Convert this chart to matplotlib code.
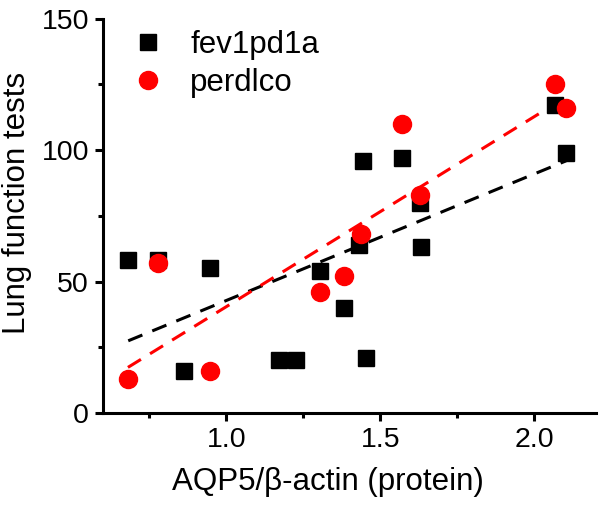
import numpy as np
import matplotlib
matplotlib.use("Agg")
import matplotlib.pyplot as plt
from matplotlib.ticker import MultipleLocator

plt.rcParams['font.family'] = ['Liberation Sans', 'DejaVu Sans']

# fev1pd1a (black squares)
fev_x = [0.682, 0.777, 0.948, 0.864, 1.170, 1.226, 1.305, 1.381, 1.454, 1.432,
         1.632, 2.066, 2.103, 1.570, 1.443, 1.630]
fev_y = [58, 58, 55, 16, 20, 20, 54, 40, 21, 64, 63, 117, 99, 97, 96, 80]

# perdlco (red circles)
per_x = [0.777, 0.948, 0.681, 1.305, 1.381, 1.437, 2.066, 2.103, 1.570, 1.630]
per_y = [57, 16, 13, 46, 52, 68, 125, 116, 110, 83]

fig = plt.figure(figsize=(6.05, 5.07), dpi=100)
ax = fig.add_axes([0.1702, 0.1854, 0.8149, 0.778])

red = '#ff0000'

# linear fits
for xs, ys, c in [(fev_x, fev_y, 'black'), (per_x, per_y, red)]:
    z = np.polyfit(xs, ys, 1)
    p = np.poly1d(z)
    xx = np.linspace(min(xs), max(xs), 50)
    ax.plot(xx, p(xx), color=c, linewidth=2.2, dashes=(5, 3.5), zorder=2)

ax.plot(fev_x, fev_y, 's', color='black', markersize=12, linestyle='none',
        label='fev1pd1a', zorder=3)
ax.plot(per_x, per_y, 'o', color=red, markersize=13, linestyle='none',
        label='perdlco', zorder=4)

ax.set_xlim(0.6, 2.2)
ax.set_ylim(0, 150)
ax.xaxis.set_major_locator(MultipleLocator(0.5))
ax.xaxis.set_minor_locator(MultipleLocator(0.25))
ax.yaxis.set_major_locator(MultipleLocator(50))
ax.yaxis.set_minor_locator(MultipleLocator(25))
ax.set_xticks([1.0, 1.5, 2.0])
ax.set_xticklabels(['1.0', '1.5', '2.0'])

for s in ['top', 'right']:
    ax.spines[s].set_visible(False)
for s in ['left', 'bottom']:
    ax.spines[s].set_linewidth(2.2)

ax.tick_params(which='major', direction='out', length=6, width=2.2,
               labelsize=20.5, pad=4)
ax.tick_params(which='minor', direction='out', length=3.5, width=2.2)

ax.set_xlabel('AQP5/β-actin (protein)', fontsize=22.5)
ax.set_ylabel('Lung function tests', fontsize=22.5)
ax.xaxis.set_label_coords(0.456, -0.137)
ax.yaxis.set_label_coords(-0.144, 0.532)

ax.legend(loc='upper left', bbox_to_anchor=(0.06, 0.971), frameon=False,
          fontsize=22.5, handlelength=1.0, handletextpad=0.844,
          labelspacing=0.25, borderpad=0, borderaxespad=0, numpoints=1)

fig.savefig('out.png', dpi=100)
